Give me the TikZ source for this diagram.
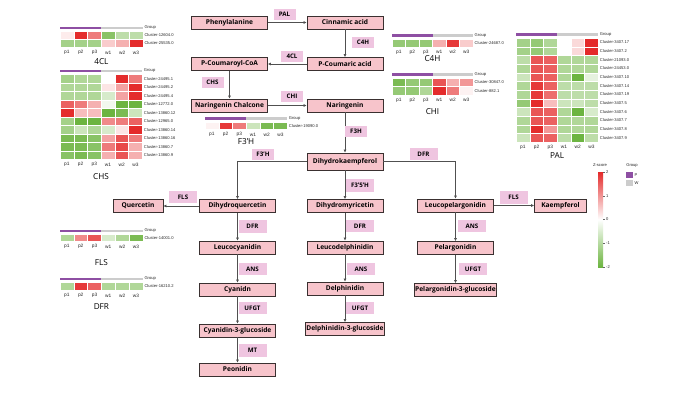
\documentclass[tikz,border=0pt]{standalone}
\usepackage{fontspec}
\setmainfont{Open Sans}
\newfontfamily\hmfont{Liberation Sans}
\usetikzlibrary{arrows.meta}
\definecolor{boxpink}{HTML}{F7C4CB}
\definecolor{boxedge}{HTML}{3A3030}
\definecolor{enzpink}{HTML}{EFC5E0}
\definecolor{hmred}{HTML}{E42A2A}
\definecolor{hmgreen}{HTML}{6CB440}
\definecolor{grpP}{HTML}{8E4FA3}
\definecolor{grpW}{HTML}{CCCCCC}
\definecolor{flowgray}{HTML}{505050}
\tikzset{
 met/.style={draw=boxedge,line width=0.9pt,fill=boxpink,minimum width=76pt,minimum height=13pt,inner sep=1pt,font=\bfseries\fontsize{6.6}{8}\selectfont},
 enz/.style={fill=enzpink,minimum width=22pt,minimum height=11pt,inner sep=1pt,font=\bfseries\fontsize{6.2}{7}\selectfont},
 enzl/.style={enz,minimum width=28pt,minimum height=12.5pt},
 flow/.style={draw=flowgray,line width=0.8pt,-{Latex[length=3pt,width=3pt]}},
 hmtxt/.style={font=\hmfont\fontsize{4.1}{5}\selectfont,inner sep=0pt,text=black!85},
 hmcol/.style={font=\hmfont\fontsize{4.8}{5}\selectfont,inner sep=0pt,text=black!85},
 hmtitle/.style={font=\fontsize{8.2}{9}\selectfont,inner sep=0pt},
}
% one heatmap cell, coloured by z-score
\newcommand{\hmcell}[5]{%
 \pgfmathsetmacro{\hmz}{#5}%
 \ifdim\hmz pt<0pt
  \pgfmathtruncatemacro{\hmp}{min(100,abs(#5)*90)}\def\hmc{hmgreen}%
 \else
  \pgfmathtruncatemacro{\hmp}{min(100,abs(#5)*62)}\def\hmc{hmred}%
 \fi
 \filldraw[fill=\hmc!\hmp!white,draw=white,line width=0.3pt] ({#1},{#2}) rectangle ++({#3},{#4});}
% heatmap: name, x, y of group bar, cell width, row height, title, title y, rows
\newcommand{\hmap}[8]{%
 \fill[grpP] ({#2},{#3}) rectangle ++({3*#4},2.8);
 \fill[grpW] ({#2+3*#4},{#3}) rectangle ++({3*#4},2.8);
 \node[hmtxt,anchor=west] (#1-grp) at ({#2+6*#4+1.5},{#3+1.4}) {Group};
 \foreach \hlab/\hvals [count=\hr] in {#8} {
   \foreach \hv [count=\hc] in \hvals {\hmcell{#2+(\hc-1)*#4}{#3+5+(\hr-1)*#5}{#4}{#5}{\hv}}
   \node[hmtxt,anchor=west] (#1-r\hr) at ({#2+6*#4+1.5},{#3+5+(\hr-0.5)*#5}) {\hlab};
   \xdef\hmrows{\hr}
 }
 \foreach \hct [count=\hc] in {p1,p2,p3,w1,w2,w3}
   \node[hmcol] (#1-c\hc) at ({#2+(\hc-0.5)*#4},{#3+5+\hmrows*#5+5}) {\hct};
 \node[hmtitle] (#1-t) at ({#2+3*#4},{#7}) {#6};
}

\begin{document}
\begin{tikzpicture}[x=1pt,y=-1pt]
\useasboundingbox[fill=white] (0,0) rectangle (700,394);
%upper pathway
\node[met] (phe) at (229.5,22.5) {Phenylalanine};
\node[met] (cin) at (345,22.5) {Cinnamic acid};
\node[met] (pcou) at (345,64) {P-Coumaric acid};
\node[met] (pcoa) at (229.5,64) {P-Coumaroyl-CoA};
\node[met] (chal) at (229.5,105.5) {Naringenin Chalcone};
\node[met] (nar) at (345,105.5) {Naringenin};
\node[met,minimum height=17pt] (dhk) at (345,161.5) {Dihydrokaempferol};
%three branches
\node[met] (dhq) at (237.5,206) {Dihydroquercetin};
\node[met,minimum width=50pt] (quer) at (138,206) {Quercetin};
\node[met] (lcy) at (237.5,247.5) {Leucocyanidin};
\node[met] (cya) at (237.5,289.5) {Cyanidn};
\node[met] (c3g) at (237.5,330.5) {Cyanidin-3-glucoside};
\node[met] (peo) at (237.5,369.5) {Peonidin};
\node[met] (dhm) at (345,206) {Dihydromyricetin};
\node[met] (ldp) at (345,247.5) {Leucodelphinidin};
\node[met] (del) at (345,288.5) {Delphinidin};
\node[met] (d3g) at (345,329) {Delphinidin-3-glucoside};
\node[met] (lpg) at (455.5,205.5) {Leucopelargonidin};
\node[met,minimum width=52pt] (kae) at (560.5,205.5) {Kaempferol};
\node[met] (pel) at (455.5,248) {Pelargonidin};
\node[met] (p3g) at (455.5,290) {Pelargonidin-3-glucoside};
%connectors
\draw[flow] (phe) -- (cin);
\draw[flow] (cin) -- (pcou);
\draw[flow] (pcou) -- (pcoa);
\draw[flow] (pcoa) -- (chal);
\draw[flow] (chal) -- (nar);
\draw[flow] (nar) -- (dhk);
\draw[flow] (dhk.west) -| (dhq.north);
\draw[flow] (dhk) -- (dhm);
\draw[flow] (dhk.east) -| (lpg.north);
\draw[flow] (dhq) -- (quer);
\draw[flow] (dhq) -- (lcy);
\draw[flow] (lcy) -- (cya);
\draw[flow] (cya) -- (c3g);
\draw[flow] (c3g) -- (peo);
\draw[flow] (dhm) -- (ldp);
\draw[flow] (ldp) -- (del);
\draw[flow] (del) -- (d3g);
\draw[flow] (lpg) -- (kae);
\draw[flow] (lpg) -- (pel);
\draw[flow] (pel) -- (p3g);
%enzymes
\node[enz] (e-pal) at (284.5,14) {PAL};
\node[enz] (e-c4h) at (363,42.5) {C4H};
\node[enz] (e-4cl) at (292,56) {4CL};
\node[enz] (e-chs) at (212.5,82) {CHS};
\node[enz] (e-chi) at (292,96) {CHI};
\node[enz] (e-f3h) at (356,131) {F3H};
\node[enz] (e-f3ph) at (263,154.5) {F3'H};
\node[enzl] (e-dfr0) at (423.5,154) {DFR};
\node[enzl] (e-fls1) at (183,197) {FLS};
\node[enzl] (e-fls2) at (513.5,197.5) {FLS};
\node[enzl] (e-f35h) at (360,185.5) {F3'5'H};
\node[enzl] (e-dfr1) at (252.5,226.5) {DFR};
\node[enzl] (e-dfr2) at (360,226) {DFR};
\node[enzl] (e-ans1) at (252.5,269) {ANS};
\node[enzl] (e-ans2) at (361,269) {ANS};
\node[enzl] (e-ans3) at (472,226) {ANS};
\node[enzl] (e-ufgt1) at (252.5,308) {UFGT};
\node[enzl] (e-ufgt2) at (360,308) {UFGT};
\node[enzl] (e-ufgt3) at (473,269) {UFGT};
\node[enzl] (e-mt) at (252.5,350.5) {MT};
%heatmaps
\hmap{h4cl}{60}{26.5}{13.8}{8}{4CL}{62}{Cluster-12604.0/{0.15,1.6,1.0,-0.9,-0.5,-0.5},
 Cluster-25535.0/{-0.7,-0.7,-0.7,0.4,0.6,1.6}}
\hmap{hchs}{60}{69.5}{13.7}{8.5}{CHS}{177}{Cluster-24495.1/{-0.7,-0.6,-0.6,0,1.6,1.0},
 Cluster-24495.2/{-0.6,-0.6,-0.6,0.2,0.7,1.6},
 Cluster-24495.4/{-0.6,-0.6,-0.6,-0.3,0.7,1.6},
 Cluster-12772.0/{1.2,1.0,0.6,-0.1,-1.3,-1.2},
 Cluster-13860.12/{1.6,0.5,0.5,-1.3,-1.0,-0.4},
 Cluster-12965.0/{-0.7,-1.3,-1.3,0.9,1.0,1.2},
 Cluster-13860.14/{-0.7,-0.4,-0.6,-0.3,0.2,1.8},
 Cluster-13860.16/{-1.0,-1.0,-0.9,0.7,1.3,1.0},
 Cluster-13860.7/{-1.0,-1.0,-0.9,1.0,1.4,0.6},
 Cluster-13860.9/{-0.9,-1.0,-0.9,0.6,1.3,0.6}}
\hmap{hf3h}{205}{117}{13.7}{7.5}{F3'H}{142}{Cluster-19090.0/{0.1,1.5,1.0,-0.4,-1.0,-1.0}}
\hmap{hc4h}{392}{34}{13.5}{8}{C4H}{59}{Cluster-24687.0/{-0.8,-0.8,-0.8,0.6,1.5,0.4}}
\hmap{hchi}{392}{73}{13.5}{8.5}{CHI}{112}{Cluster-30847.0/{-1.0,-0.8,-0.8,1.3,0.6,0.8},
 Cluster-882.1/{-0.8,-0.8,-0.6,1.6,1.0,0.1}}
\hmap{hpal}{516}{33}{13.7}{8.67}{PAL}{156}{Cluster-3407.17/{-0.7,-0.8,-0.6,0,0.3,1.7},
 Cluster-3407.2/{-0.7,-0.8,-0.6,0,0.3,1.7},
 Cluster-21093.0/{-0.5,1.3,1.2,-0.6,-0.6,-0.6},
 Cluster-24453.0/{-0.6,1.3,1.2,-0.6,-0.6,-0.6},
 Cluster-3407.10/{-0.4,1.3,1.2,-0.6,-1.3,-0.2},
 Cluster-3407.14/{-0.6,1.5,1.2,-0.5,-0.5,-0.5},
 Cluster-3407.19/{-0.6,1.5,1.1,-0.5,-0.5,-0.5},
 Cluster-3407.5/{-0.8,1.7,0.5,-0.4,-0.4,-0.5},
 Cluster-3407.6/{-0.4,1.3,1.2,-0.6,-1.2,-0.3},
 Cluster-3407.7/{-0.6,1.3,1.2,-0.6,-0.6,-0.6},
 Cluster-3407.8/{-0.6,1.6,0.8,-0.6,-0.6,-0.6},
 Cluster-3407.9/{-0.4,1.3,1.2,-0.5,-1.1,-0.5}}
\hmap{hfls}{60}{229.5}{13.8}{7}{FLS}{263}{Cluster-14001.0/{-0.6,0.9,1.3,-0.3,-0.6,-1.0}}
\hmap{hdfr}{60}{277.5}{13.8}{8}{DFR}{307}{Cluster-16210.2/{-0.6,1.5,1.2,-0.6,-0.6,-0.6}}
%legend
\shade[top color=hmred,bottom color=hmgreen,middle color=white] (598,172) rectangle (603,267);
\node[hmtxt] (zlab) at (600,165) {Z-score};
\foreach \zv [count=\zi] in {2,1,0,-1,-2} {
 \draw[black!60,line width=0.3pt] (603,{172+(\zi-1)*23.75}) -- ++(1.5,0);
 \node[hmtxt,anchor=west] (z\zi) at (606,{172+(\zi-1)*23.75}) {\zv};
}
\node[hmtxt] (glab) at (632,165) {Group};
\node[fill=grpP,minimum size=6.5pt,inner sep=0pt] (gp) at (629.5,175) {};
\node[fill=grpW,minimum size=6.5pt,inner sep=0pt] (gw) at (629.5,183) {};
\node[hmtxt,anchor=west] (gpl) at (634.5,175) {P};
\node[hmtxt,anchor=west] (gwl) at (634.5,183) {W};
\end{tikzpicture}
\end{document}
